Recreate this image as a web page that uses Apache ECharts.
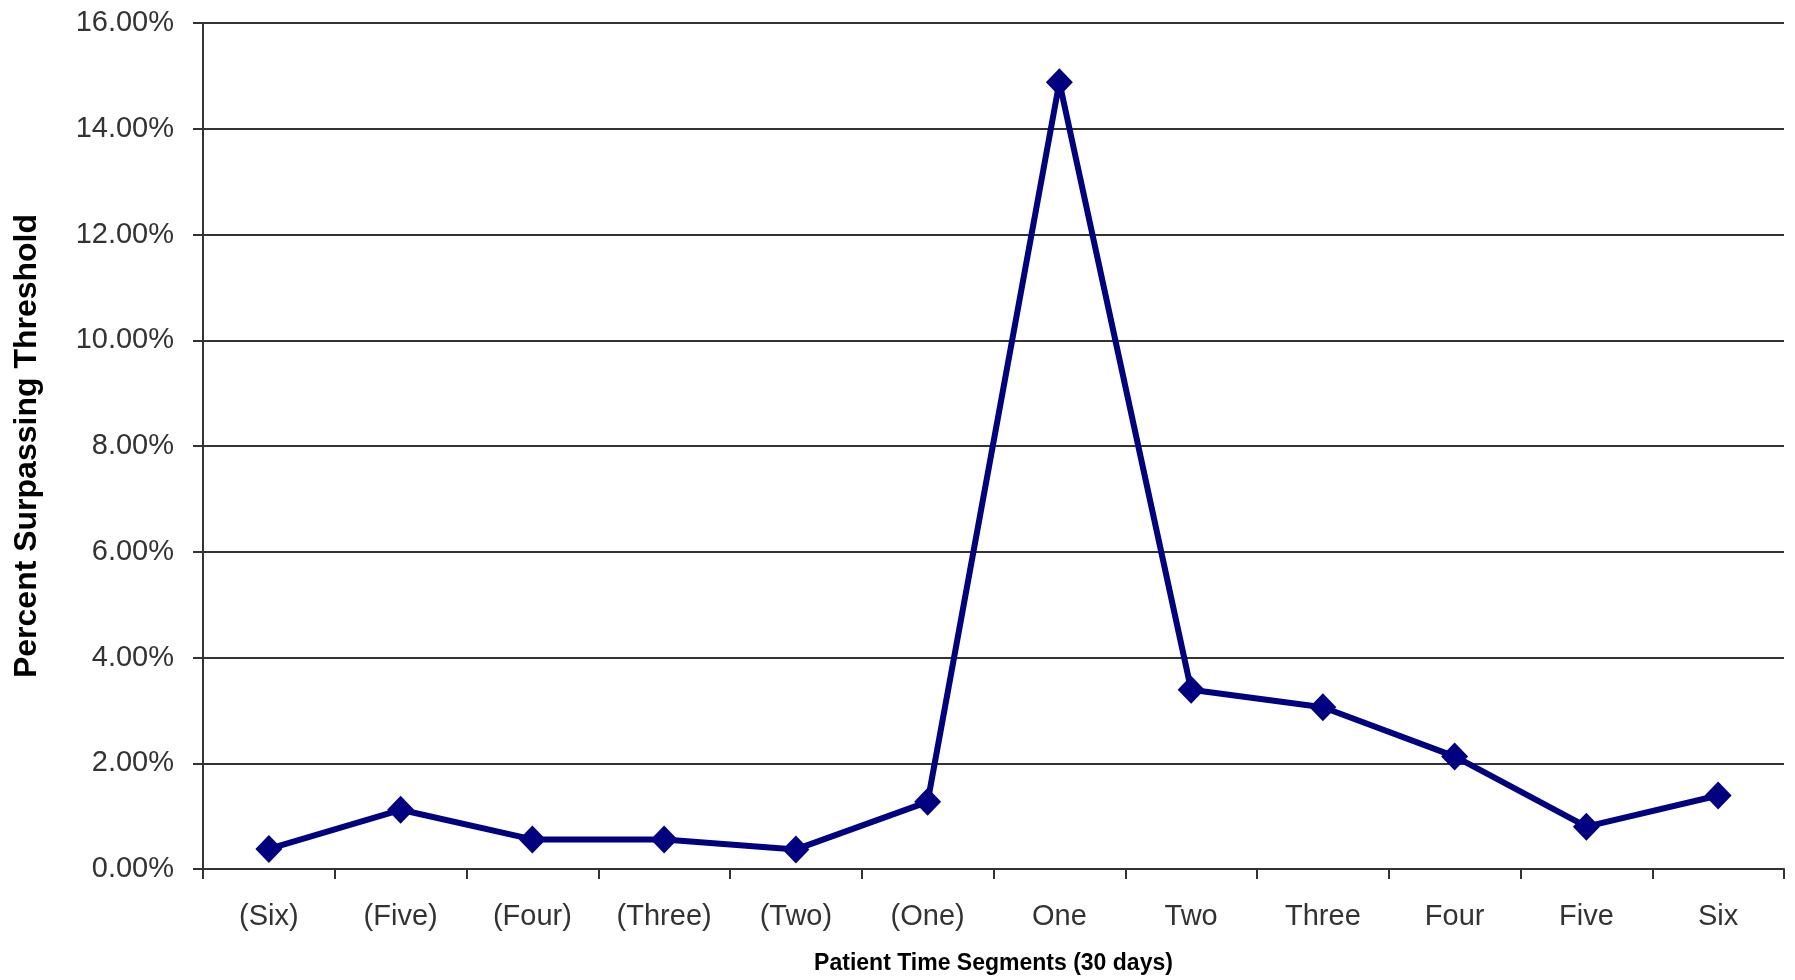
<!DOCTYPE html>
<html>
<head>
<meta charset="utf-8">
<style>
html,body{margin:0;padding:0;background:#fff;}
#chart{width:1795px;height:980px;}
</style>
<script src="https://cdn.jsdelivr.net/npm/echarts@6/dist/echarts.min.js"></script>
</head>
<body>
<div id="chart"></div>
<script>
const categories = ['(Six)','(Five)','(Four)','(Three)','(Two)','(One)','One','Two','Three','Four','Five','Six'];
const percentSurpassing = [0.38, 1.12, 0.56, 0.56, 0.37, 1.27, 14.88, 3.39, 3.06, 2.13, 0.80, 1.39];
const yMin = 0, yMax = 16, yStep = 2;

const chart = echarts.init(document.getElementById('chart'), null, {renderer:'canvas'});
chart.setOption({
  backgroundColor:'#ffffff',
  animation:false,
  grid:{left:203, right:11, top:23, bottom:107, containLabel:false},
  xAxis:{
    type:'category',
    data:categories,
    boundaryGap:true,
    name:'Patient Time Segments (30 days)',
    nameLocation:'middle',
    nameGap:83,
    nameTextStyle:{fontFamily:'Liberation Sans, Arial, sans-serif', fontSize:23, fontWeight:'bold', color:'#000'},
    axisLine:{show:true, lineStyle:{color:'#333', width:2}},
    axisTick:{show:true, length:10, alignWithLabel:false, lineStyle:{color:'#333', width:2}},
    axisLabel:{margin:33, fontFamily:'Liberation Sans, Arial, sans-serif', fontSize:29, color:'#333', interval:0},
    splitLine:{show:false}
  },
  yAxis:{
    type:'value',
    min:yMin, max:yMax, interval:yStep,
    name:'Percent Surpassing Threshold',
    nameLocation:'middle',
    nameGap:160,
    nameRotate:90,
    nameTextStyle:{fontFamily:'Liberation Sans, Arial, sans-serif', fontSize:32, fontWeight:'bold', color:'#000'},
    axisLine:{show:true, lineStyle:{color:'#333', width:2}},
    axisTick:{show:true, length:10, lineStyle:{color:'#333', width:2}},
    axisLabel:{margin:29, fontFamily:'Liberation Sans, Arial, sans-serif', fontSize:29, color:'#333',
      formatter:function(v){return v.toFixed(2)+'%';}},
    splitLine:{show:true, lineStyle:{color:'#333', width:2}}
  },
  series:[{
    type:'line',
    data:percentSurpassing,
    symbol:'diamond',
    symbolSize:[27,28],
    lineStyle:{color:'#000080', width:6},
    itemStyle:{color:'#000080'},
    z:5
  }]
});
</script>
</body>
</html>
